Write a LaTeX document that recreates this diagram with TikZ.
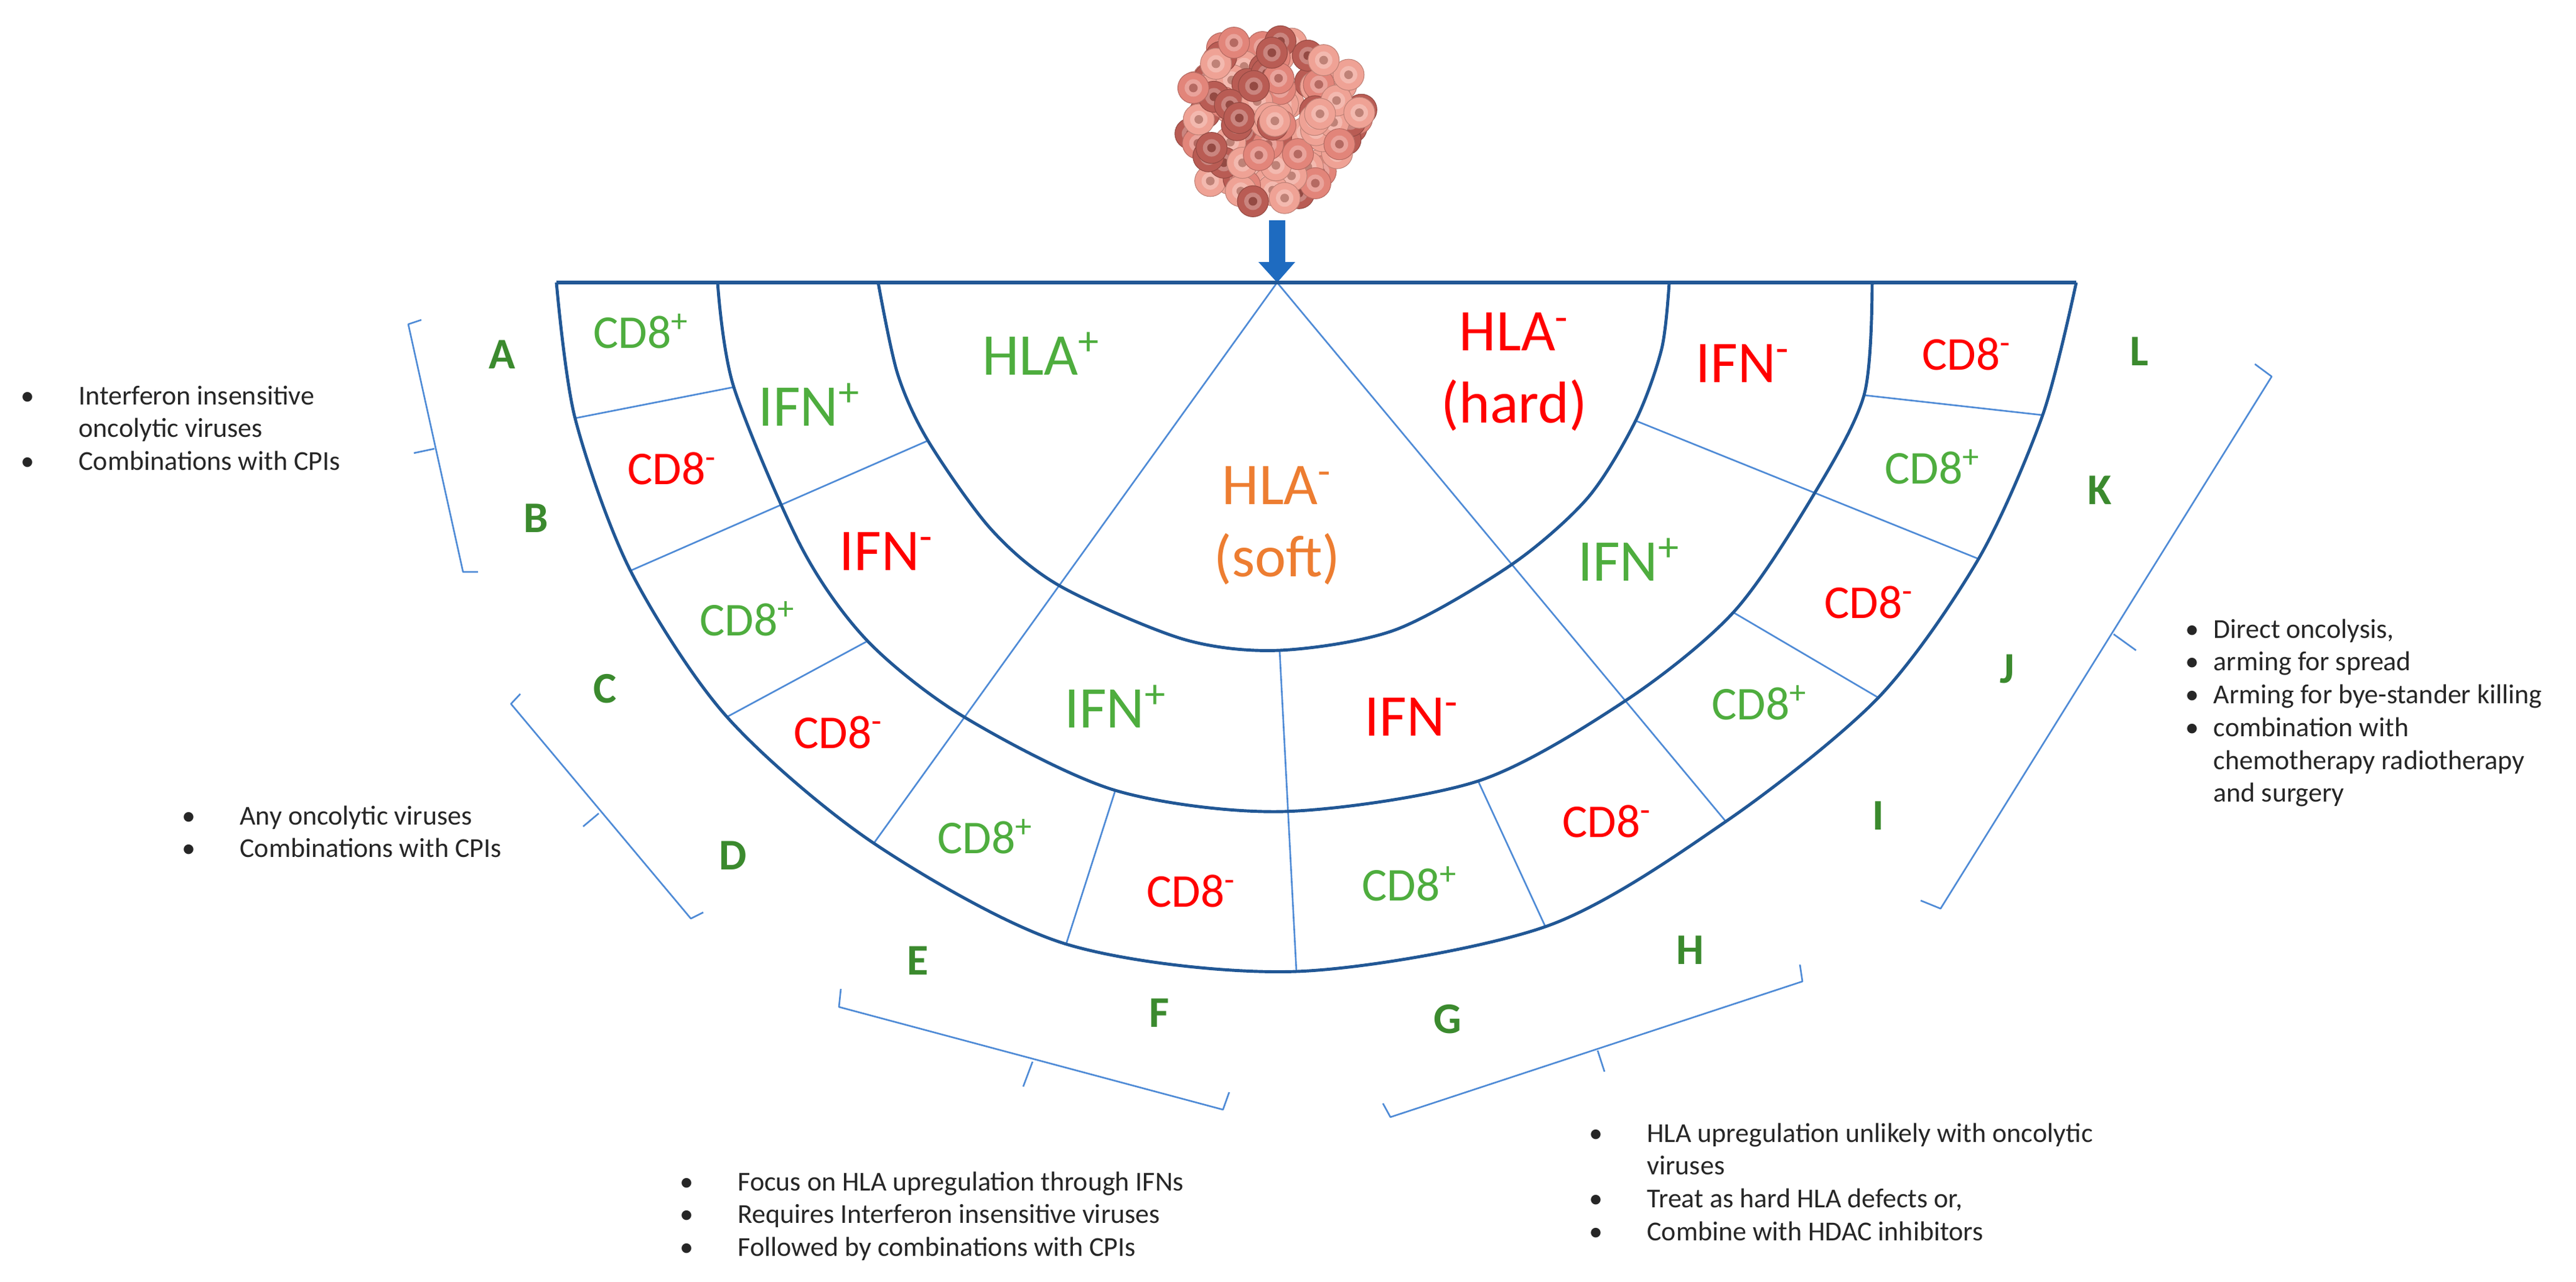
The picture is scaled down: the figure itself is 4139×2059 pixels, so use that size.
\documentclass[tikz,border=0pt]{standalone}
\usepackage{fontspec}
\setmainfont{Carlito}
\definecolor{dblue}{HTML}{215795}
\definecolor{lblue}{HTML}{4F8BD6}
\definecolor{cgreen}{HTML}{4EAD3E}
\definecolor{lgreen}{HTML}{3B8A2E}
\definecolor{cred}{HTML}{FF0000}
\definecolor{corange}{HTML}{ED7D31}
\definecolor{txt}{HTML}{262626}
\definecolor{arrowblue}{HTML}{1E6BC0}
\definecolor{cellA}{HTML}{EFA295}
\definecolor{cellB}{HTML}{E2857A}
\definecolor{cellC}{HTML}{B95C54}
\begin{document}
\begin{tikzpicture}[x=0.01cm,y=-0.01cm,
  arc/.style={dblue,line width=1.4pt},
  div/.style={lblue,line width=0.75pt},
  brk/.style={lblue,line width=0.75pt,line join=round},
  cell/.style={font=\fontsize{21.5}{24}\selectfont,inner sep=0pt},
  big/.style={font=\fontsize{27}{33}\selectfont,inner sep=0pt,align=center},
  let/.style={font=\fontsize{20}{24}\selectfont\bfseries,text=lgreen,inner sep=0pt},
  bul/.style={font=\fontsize{12.5}{15}\selectfont,text=txt,anchor=base west,inner sep=0pt}]
\useasboundingbox (0,0) rectangle (4139,2059);
% tumour
\pgfmathsetseed{11}
\foreach \i in {1,...,130}{
  \pgfmathsetmacro\aa{360*rnd}
  \pgfmathsetmacro\rr{sqrt(rnd)}
  \pgfmathsetmacro\cx{2042+148*\rr*cos(\aa)}
  \pgfmathsetmacro\cy{190+138*\rr*sin(\aa)}
  \pgfmathtruncatemacro\k{int(3*rnd)}
  \ifcase\k \def\fc{cellA}\or\def\fc{cellB}\else\def\fc{cellC}\fi
  \fill[\fc,draw=\fc!80!black,line width=0.3pt] (\cx,\cy) circle[radius=25];
  \fill[\fc!75!white] (\cx,\cy) circle[radius=14];
  \fill[\fc!80!black] (\cx,\cy) circle[radius=7];
}
% arrow
\fill[arrowblue] (2039,354)--(2065,354)--(2065,421)--(2081,421)--(2052,454)--(2022,421)--(2039,421)--cycle;
% coordinates
\coordinate (apex) at (2052,454);
\coordinate (ab1) at (924,672); \coordinate (ab2) at (1179,622);
\coordinate (bc1) at (1491,708); \coordinate (bc2) at (1013,917);
\coordinate (cd1) at (1394,1030); \coordinate (cd2) at (1168,1152);
\coordinate (rl) at (1404,1355);
\coordinate (ef1) at (1792,1270); \coordinate (ef2) at (1713,1517);
\coordinate (fg1) at (2056,1045); \coordinate (fg2) at (2083,1561);
\coordinate (gh1) at (2375,1255); \coordinate (gh2) at (2483,1489);
\coordinate (rr) at (2773,1320);
\coordinate (ij1) at (2785,984); \coordinate (ij2) at (3018,1121);
\coordinate (jk1) at (2628,676); \coordinate (jk2) at (3179,898);
\coordinate (kl1) at (2995,635); \coordinate (kl2) at (3282,667);
% dividers
\draw[div] (ab1)--(ab2);
\draw[div] (bc1)--(bc2);
\draw[div] (cd1)--(cd2);
\draw[div] (apex)--(rl);
\draw[div] (ef1)--(ef2);
\draw[div] (fg1)--(fg2);
\draw[div] (gh1)--(gh2);
\draw[div] (apex)--(rr);
\draw[div] (ij1)--(ij2);
\draw[div] (jk1)--(jk2);
\draw[div] (kl1)--(kl2);
% arcs
\draw[arc] plot[smooth] coordinates {(894,454) (924,672) (1013,917) (1168,1152) (1404,1355) (1713,1517) (2083,1561) (2483,1489) (2773,1320) (3018,1121) (3179,898) (3282,667) (3336,454)};
\draw[arc] plot[smooth] coordinates {(1153,454) (1179,622) (1288,880) (1394,1030) (1549,1152) (1792,1270) (2062,1304) (2375,1255) (2613,1125) (2785,984) (2911,800) (2995,635) (3008,454)};
\draw[arc] plot[smooth] coordinates {(1411,454) (1442,600) (1491,708) (1592,850) (1702,941) (1901,1027) (2056,1045) (2242,1012) (2429,907) (2551,800) (2628,676) (2670,560) (2682,454)};
\draw[dblue,line width=1.8pt] (894,454)--(3336,454);
% cell labels
\node[cell,text=cgreen] (a) at (1030,532) {CD8\textsuperscript{+}};
\node[cell,text=cred] (b) at (1080,753) {CD8\textsuperscript{-}};
\node[cell,text=cgreen] (c) at (1201,994) {CD8\textsuperscript{+}};
\node[cell,text=cred] (d) at (1347,1177) {CD8\textsuperscript{-}};
\node[cell,text=cgreen] (e) at (1583,1344) {CD8\textsuperscript{+}};
\node[cell,text=cred] (f) at (1914,1432) {CD8\textsuperscript{-}};
\node[cell,text=cgreen] (g) at (2265,1420) {CD8\textsuperscript{+}};
\node[cell,text=cred] (h) at (2582,1320) {CD8\textsuperscript{-}};
\node[cell,text=cgreen] (i) at (2827,1129) {CD8\textsuperscript{+}};
\node[cell,text=cred] (j) at (3003,968) {CD8\textsuperscript{-}};
\node[cell,text=cgreen] (k) at (3105,750) {CD8\textsuperscript{+}};
\node[cell,text=cred] (l) at (3160,569) {CD8\textsuperscript{-}};
\node[big,text=cgreen] (ifn1) at (1300,650) {IFN\textsuperscript{+}};
\node[big,text=cred] (ifn2) at (1424,886) {IFN\textsuperscript{-}};
\node[big,text=cgreen] (ifn3) at (1792,1135) {IFN\textsuperscript{+}};
\node[big,text=cred] (ifn4) at (2268,1152) {IFN\textsuperscript{-}};
\node[big,text=cgreen] (ifn5) at (2617,899) {IFN\textsuperscript{+}};
\node[big,text=cred] (ifn6) at (2800,584) {IFN\textsuperscript{-}};
\node[big,text=cgreen] (hla1) at (1673,568) {HLA\textsuperscript{+}};
\node[big,text=cred] (hla2) at (2433,598) {HLA\textsuperscript{-}\\(hard)};
\node[big,text=corange] (hla3) at (2052,845) {HLA\textsuperscript{-}\\(soft)};
% letters
\node[let] (LA) at (807,570) {A};
\node[let] (LB) at (861,833) {B};
\node[let] (LC) at (972,1107) {C};
\node[let] (LD) at (1178,1375) {D};
\node[let] (LE) at (1475,1544) {E};
\node[let] (LF) at (1863,1628) {F};
\node[let] (LG) at (2326,1638) {G};
\node[let] (LH) at (2716,1527) {H};
\node[let] (LI) at (3018,1311) {I};
\node[let] (LJ) at (3225,1075) {J};
\node[let] (LK) at (3374,788) {K};
\node[let] (LL) at (3437,565) {L};
% brackets
\draw[brk] (677,514)--(656,521)--(744,919)--(768,919);
\draw[brk] (698,721)--(665,728);
\draw[brk] (836,1115)--(821,1131)--(1110,1476)--(1130,1466);
\draw[brk] (962,1307)--(937,1328);
\draw[brk] (1351,1589)--(1348,1618)--(1965,1783)--(1975,1755);
\draw[brk] (1659,1706)--(1644,1746);
\draw[brk] (2222,1773)--(2234,1795)--(2896,1577)--(2892,1550);
\draw[brk] (2567,1688)--(2578,1722);
\draw[brk] (3623,585)--(3650,605)--(3118,1460)--(3086,1447);
\draw[brk] (3396,1019)--(3432,1045);
% bullet texts
\node[bul] (t1) at (33,650) {\begin{tabular}[t]{@{}p{66\pgflinewidth}@{}l@{}}\textbullet & Interferon insensitive\\ & oncolytic viruses\\ \textbullet & Combinations with CPIs\end{tabular}};
\node[bul] (t2) at (292,1325) {\begin{tabular}[t]{@{}p{66\pgflinewidth}@{}l@{}}\textbullet & Any oncolytic viruses\\ \textbullet & Combinations with CPIs\end{tabular}};
\node[bul] (t3) at (3511,1025) {\begin{tabular}[t]{@{}p{32\pgflinewidth}@{}l@{}}\textbullet & Direct oncolysis,\\ \textbullet & arming for spread\\ \textbullet & Arming for bye-stander killing\\ \textbullet & combination with\\ & chemotherapy radiotherapy\\ & and surgery\end{tabular}};
\node[bul] (t4) at (1092,1913) {\begin{tabular}[t]{@{}p{66\pgflinewidth}@{}l@{}}\textbullet & Focus on HLA upregulation through IFNs\\ \textbullet & Requires Interferon insensitive viruses\\ \textbullet & Followed by combinations with CPIs\end{tabular}};
\node[bul] (t5) at (2553,1835) {\begin{tabular}[t]{@{}p{66\pgflinewidth}@{}l@{}}\textbullet & HLA upregulation unlikely with oncolytic\\ & viruses\\ \textbullet & Treat as hard HLA defects or,\\ \textbullet & Combine with HDAC inhibitors\end{tabular}};
\end{tikzpicture}
\end{document}
